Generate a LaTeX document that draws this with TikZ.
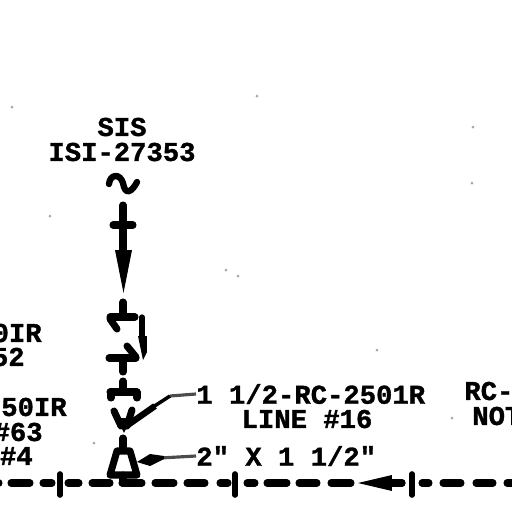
\documentclass[tikz,border=0pt]{standalone}
\usepackage{fontspec}
\newfontfamily\tagfont[FakeBold=1.2]{Liberation Mono Bold}
\tikzset{
  pipe/.style={line width=4pt,line cap=round},
  thin pipe/.style={line width=3pt,line cap=round},
  leader/.style={line width=1.8pt,black!70},
  tag/.style={inner sep=0pt,font=\tagfont\fontsize{15.5}{15.5}\selectfont},
  speck/.style={fill=black!35,draw=none},
}
\begin{document}
\begin{tikzpicture}[x=0.02cm,y=-0.02cm]

\useasboundingbox (0,0) rectangle (512,512);
\clip (0,0) rectangle (512,512);

% labels
\node[tag] (sis) at (122,127) {SIS};
\node[tag] (isi) at (122,152) {ISI-27353};
\node[tag,anchor=west] (line size) at (196,394) {1 1/2-RC-2501R};
\node[tag] (line no) at (307,419) {LINE \#16};
\node[tag,anchor=west] (reducer) at (196,456) {2" X 1 1/2"};
\node[tag,anchor=east] (cut a) at (42,333) {0IR};
\node[tag,anchor=east] (cut b) at (25,357) {52};
\node[tag,anchor=east] (cut c) at (67,407) {250IR};
\node[tag,anchor=east] (cut d) at (43,432) {\#63};
\node[tag,anchor=east] (cut e) at (33,456) {\#4};
\node[tag,anchor=west] (cut f) at (464,391) {RC-};
\node[tag,anchor=west] (cut g) at (472,416) {NOT};

% root connection
\draw[pipe,line width=3.6pt] (109,184) .. controls (110,174) and (120,173) .. (123,183)
  .. controls (125,196) and (132,192) .. (137,182);
\draw[pipe] (123,205) -- (123,250);
\draw[pipe] (113,225) -- (133,225);
\fill (115,250) -- (132,250) -- (123.5,293) -- cycle;

% first valve
\draw[pipe] (123,302) -- (123,317);
\draw[pipe] (110,317) -- (135,317);
\draw[pipe] (110,319) -- (117,329);
\draw[thin pipe] (142,317) -- (142,340);
\fill (138,336) -- (147,336) -- (147,352) -- (143,360) -- cycle;

% second valve
\draw[pipe] (109,358) -- (136,358);
\draw[pipe] (127,346) -- (136,357);
\draw[pipe] (123,359) -- (123,372);

% third valve
\draw[pipe] (123,381) -- (123,392);
\draw[pipe] (110,392) -- (137,392);
\draw[pipe] (111,392) -- (111,398);
\draw[pipe] (137,392) -- (137,398);
\draw[pipe] (114,411) -- (121,426);
\draw[pipe] (132,410) -- (127,426);
\fill (117,418) -- (131,418) -- (124,433) -- cycle;

% reducer
\coordinate (stem top) at (123,438);
\coordinate (stem low) at (123,483);
\draw[pipe] (stem top) -- (123,450);
\draw[pipe,line join=round] (117,451) -- (130,451) -- (137,475) -- (110,475) -- cycle;
\draw[pipe] (123,475) -- (stem low);

% leaders
\coordinate (tip a) at (125,427);
\coordinate (knee a) at (170,396);
\coordinate (tip b) at (137,462);
\draw[leader] (line size.west) -- (knee a);
\draw[line width=2pt] (knee a) -- (153,407);
\draw[line width=3.6pt] (155,406) -- (tip a);
\draw[leader] (reducer.west) -- (160,458);
\fill (tip b) -- (150,454) -- (164,456) -- (164,459) -- (150,466) -- cycle;

% main line
\foreach \a/\b in {-5/2,8/33,40/55,65/82,89/113,119/145,152/177,184/208,217/231,244/258,264/290,296/320,328/354,392/405,419/432,440/464,473/496,504/520}
  \draw[pipe] ({\a+3},483) -- ({\b-3},483);
\draw[pipe] (385,483) -- (402,483);
\foreach \x in {60,235,412}
  \draw[line width=3.2pt,line cap=round] (\x,474) -- (\x,495);
\fill (358,483) -- (392,475) -- (392,491) -- cycle;

% specks
\foreach \x/\y in {12/107,257/96,473/127,472/183,50/216,226/270,238/276,377/350,94/443,452/418}
  \fill[speck] (\x,\y) circle (1.5);

\end{tikzpicture}
\end{document}
